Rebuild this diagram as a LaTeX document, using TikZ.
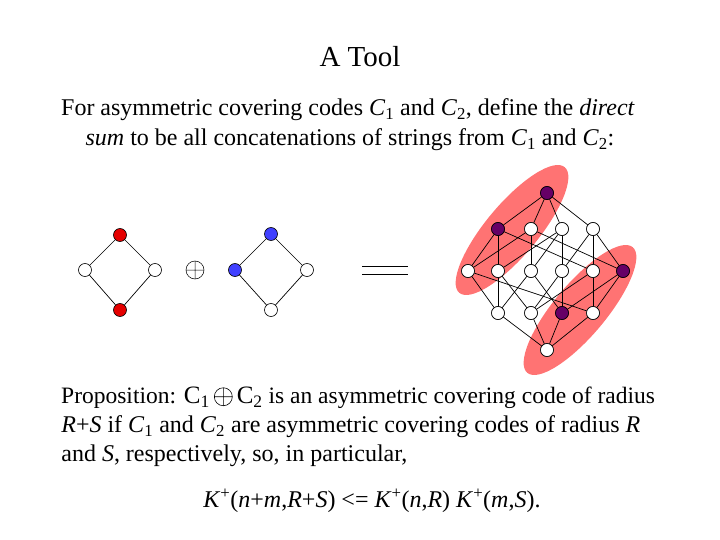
\documentclass[tikz,border=0pt]{standalone}
\usepackage{fontspec}
\setmainfont{Liberation Serif}
\begin{document}
\begin{tikzpicture}[x=1pt,y=-1pt,line width=0.7pt,
  v/.style={circle,draw,fill=white,inner sep=0pt,minimum size=13pt,line width=0.6pt},
  red/.style={v,fill=red!90!black},
  blu/.style={v,fill=blue!75},
  pur/.style={v,fill=violet!80!black},
  txt/.style={inner sep=0pt,font=\fontsize{24}{28}\selectfont},
  blob/.style={fill=red!55!white,draw=none}]
\useasboundingbox (0,0) rectangle (720,540);
\node[txt,font=\fontsize{29}{30}\selectfont] (title) at (360,57) {A Tool};
\node[txt] (l1) at (348,110) {For asymmetric covering codes \textit{C}\textsubscript{1} and \textit{C}\textsubscript{2}, define the \textit{direct}};
\node[txt] (l2) at (350,140) {\textit{sum} to be all concatenations of strings from \textit{C}\textsubscript{1} and \textit{C}\textsubscript{2}:};
% left square
\node[red] (a1) at (120,235) {};
\node[v] (a2) at (85,270) {};
\node[v] (a3) at (155,270) {};
\node[red] (a4) at (120,310) {};
\draw (a1)--(a2)--(a4)--(a3)--(a1);
\node[inner sep=0pt] (op) at (195,270) {\tikz[x=1pt,y=1pt]{\draw[line width=0.5pt] (0,0) circle (9) (-9,0)--(9,0) (0,-9)--(0,9);}};
\node[blu] (b1) at (271,234) {};
\node[blu] (b2) at (235,270) {};
\node[v] (b3) at (307,270) {};
\node[v] (b4) at (271,310) {};
\draw (b1)--(b2)--(b4)--(b3)--(b1);
\node[inner sep=0pt] (eq) at (385,270) {\tikz[x=1pt,y=1pt]{\draw[line width=0.7pt] (0,0)--(46,0) (0,8)--(46,8);}};
% blobs
\fill[blob,rotate around={50:(512,230)}] (512,230) ellipse (82 and 26);
\fill[blob,rotate around={50:(580,310)}] (580,310) ellipse (82 and 26);
% hypercube
\node[pur] (t) at (547,193) {};
\node[pur] (e1) at (498,229) {};
\node[v] (e2) at (531,229) {};
\node[v] (e3) at (562,229) {};
\node[v] (e4) at (593,229) {};
\node[v] (p12) at (468,271) {};
\node[v] (p13) at (498,271) {};
\node[v] (p23) at (531,271) {};
\node[v] (p34) at (562,271) {};
\node[v] (p14) at (593,271) {};
\node[pur] (p24) at (623,271) {};
\node[v] (q123) at (498,313) {};
\node[v] (q134) at (531,313) {};
\node[pur] (q234) at (562,313) {};
\node[v] (q124) at (593,313) {};
\node[v] (bt) at (547,350) {};
\foreach \a in {e1,e2,e3,e4} \draw (t)--(\a);
\foreach \a/\b in {e1/p12,e1/p13,e1/p14,e2/p12,e2/p23,e2/p24,e3/p13,e3/p23,e3/p34,e4/p14,e4/p24,e4/p34,
  p12/q123,p12/q124,p13/q123,p13/q134,p23/q123,p23/q234,p34/q134,p34/q234,p14/q134,p14/q124,p24/q124,p24/q234}
  \draw (\a)--(\b);
\foreach \a in {q123,q134,q234,q124} \draw (bt)--(\a);
\foreach \n/\s in {t/pur,e1/pur,e2/v,e3/v,e4/v,p12/v,p13/v,p23/v,p34/v,p14/v,p24/pur,q123/v,q134/v,q234/pur,q124/v,bt/v}
  \node[\s] at (\n) {};
\node[txt,anchor=west,font=\fontsize{23.5}{28}\selectfont] (p1) at (61,398) {Proposition: {\fontsize{25}{28}\selectfont C\textsubscript{1}\,\tikz[x=1pt,y=1pt,baseline=-1pt]{\draw[line width=0.6pt] (0,6) circle (9) (-9,6)--(9,6) (0,-3)--(0,15);}\,C\textsubscript{2}} is an asymmetric covering code of radius};
\node[txt,anchor=west] (p2) at (61,427) {\textit{R}+\textit{S} if \textit{C}\textsubscript{1} and \textit{C}\textsubscript{2} are asymmetric covering codes of radius \textit{R}};
\node[txt,anchor=west] (p3) at (61,456) {and \textit{S}, respectively, so, in particular,};
\node[txt] (f) at (372,501) {\textit{K}\textsuperscript{+}(\textit{n}+\textit{m},\textit{R}+\textit{S}) <= \textit{K}\textsuperscript{+}(\textit{n},\textit{R}) \textit{K}\textsuperscript{+}(\textit{m},\textit{S}).};
\end{tikzpicture}
\end{document}
